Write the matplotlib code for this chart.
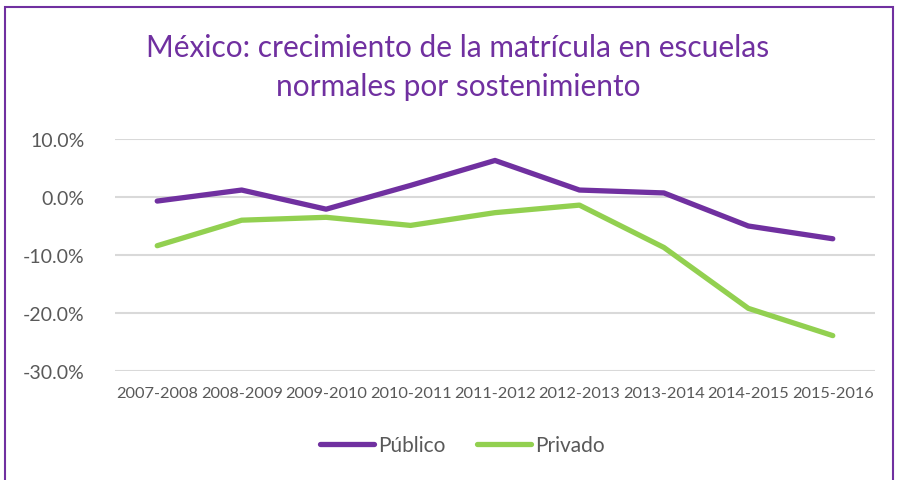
import matplotlib.pyplot as plt
from matplotlib.patches import Rectangle
from matplotlib.ticker import FuncFormatter

DPI = 100

periodos = ["2007-2008", "2008-2009", "2009-2010", "2010-2011", "2011-2012",
            "2012-2013", "2013-2014", "2014-2015", "2015-2016"]
publico = [-0.7, 1.2, -2.1, 2.0, 6.3, 1.2, 0.7, -5.0, -7.2]
privado = [-8.4, -4.0, -3.5, -4.9, -2.7, -1.4, -8.7, -19.2, -23.9]

morado = "#7030A0"
verde = "#92D050"
gris = "#595959"

plt.rcParams['font.family'] = ['Lato', 'DejaVu Sans']

fig = plt.figure(figsize=(897/DPI, 481/DPI), dpi=DPI)
ax = fig.add_axes([115/897, 1 - 372/481, (875-115)/897, (372-140)/481])

x = list(range(len(periodos)))
ax.plot(x, publico, color=morado, lw=3.8, solid_capstyle='round', label="Público")
ax.plot(x, privado, color=verde, lw=3.8, solid_capstyle='round', label="Privado")

ax.set_xlim(-0.5, len(periodos) - 0.5)
ax.set_ylim(-30, 10)
ax.set_yticks([-30, -20, -10, 0, 10])
ax.yaxis.set_major_formatter(FuncFormatter(lambda v, p: f"{v:.1f}%"))
ax.set_xticks(x)
ax.set_xticklabels(periodos)
ax.tick_params(axis='y', length=0, labelsize=14, labelcolor=gris, pad=22)
ax.tick_params(axis='x', length=0, labelsize=11.8, labelcolor=gris, pad=11)
ax.grid(axis='y', color="#D9D9D9", lw=1.5)
ax.set_axisbelow(True)
for s in ax.spines.values():
    s.set_visible(False)

fig.text(458/897, 1 - 48/481, "México: crecimiento de la matrícula en escuelas",
         ha='center', va='center', fontsize=21.5, color=morado)
fig.text(458/897, 1 - 87/481, "normales por sostenimiento",
         ha='center', va='center', fontsize=21.5, color=morado)

fig.legend(loc='center', bbox_to_anchor=(462/897, 1 - 446/481), ncol=2,
           frameon=False, fontsize=15, labelcolor=gris, handlelength=2.6,
           handletextpad=0.2, columnspacing=1.5)

fig.patches.append(Rectangle((5/897, -0.1), 888/897, 1.1 - 8/481,
                             transform=fig.transFigure, fill=False,
                             edgecolor=morado, lw=1.5))

plt.savefig("out.png", dpi=DPI)
